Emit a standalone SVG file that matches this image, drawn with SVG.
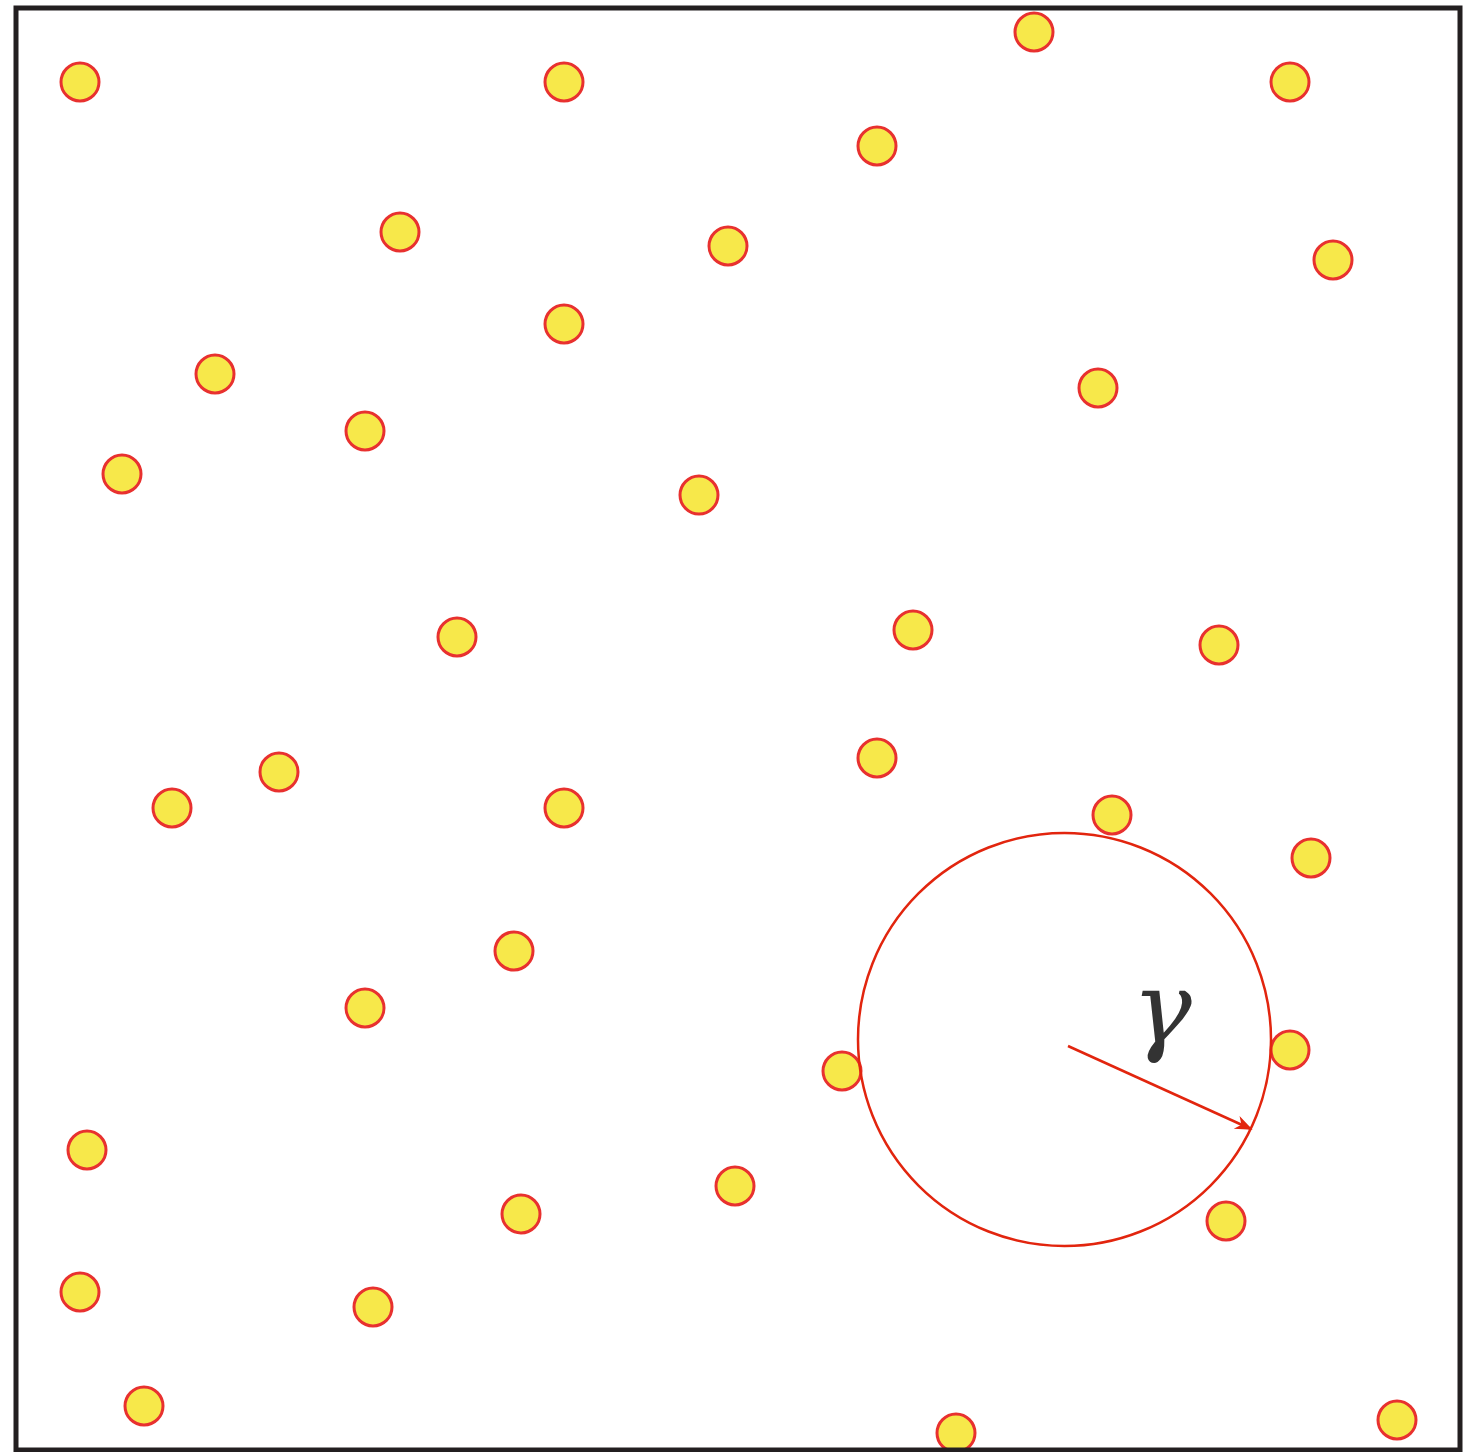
<svg xmlns="http://www.w3.org/2000/svg" width="1466" height="1452" viewBox="0 0 1466 1452">
<style>
.dot{fill:#F7E84A;stroke:#E8312F;stroke-width:3}
.big{fill:none;stroke:#E2250E;stroke-width:2.5}
.frame{fill:none;stroke:#231F20;stroke-width:5}
</style>
<defs>
<marker id="ah" viewBox="0 0 10 10" refX="9" refY="5" markerWidth="7" markerHeight="7" orient="auto" markerUnits="strokeWidth">
<path d="M0,1 L10,5 L0,9 L3,5 Z" fill="#E2250E"/>
</marker>
</defs>
<rect x="0" y="0" width="1466" height="1452" fill="#fff"/>
<g id="points">
<circle class="dot" cx="80" cy="82" r="19"/>
<circle class="dot" cx="564" cy="82" r="19"/>
<circle class="dot" cx="1034" cy="32" r="19"/>
<circle class="dot" cx="1290" cy="82" r="19"/>
<circle class="dot" cx="877" cy="146" r="19"/>
<circle class="dot" cx="400" cy="232" r="19"/>
<circle class="dot" cx="728" cy="246" r="19"/>
<circle class="dot" cx="1333" cy="260" r="19"/>
<circle class="dot" cx="564" cy="324" r="19"/>
<circle class="dot" cx="215" cy="374" r="19"/>
<circle class="dot" cx="365" cy="431" r="19"/>
<circle class="dot" cx="1098" cy="388" r="19"/>
<circle class="dot" cx="122" cy="474" r="19"/>
<circle class="dot" cx="699" cy="495" r="19"/>
<circle class="dot" cx="457" cy="637" r="19"/>
<circle class="dot" cx="913" cy="630" r="19"/>
<circle class="dot" cx="1219" cy="645" r="19"/>
<circle class="dot" cx="279" cy="772" r="19"/>
<circle class="dot" cx="172" cy="808" r="19"/>
<circle class="dot" cx="564" cy="808" r="19"/>
<circle class="dot" cx="877" cy="758" r="19"/>
<circle class="dot" cx="1112" cy="815" r="19"/>
<circle class="dot" cx="1311" cy="858" r="19"/>
<circle class="dot" cx="514" cy="951" r="19"/>
<circle class="dot" cx="365" cy="1008" r="19"/>
<circle class="dot" cx="842" cy="1071" r="19"/>
<circle class="dot" cx="1290" cy="1050" r="19"/>
<circle class="dot" cx="87" cy="1150" r="19"/>
<circle class="dot" cx="735" cy="1186" r="19"/>
<circle class="dot" cx="521" cy="1214" r="19"/>
<circle class="dot" cx="1226" cy="1221" r="19"/>
<circle class="dot" cx="80" cy="1292" r="19"/>
<circle class="dot" cx="373" cy="1307" r="19"/>
<circle class="dot" cx="144" cy="1406" r="19"/>
<circle class="dot" cx="956" cy="1433" r="19"/>
<circle class="dot" cx="1397" cy="1420" r="19"/>
</g>
<g id="range">
<circle class="big" cx="1064.5" cy="1039.5" r="206.5"/>
</g>
<g id="connectors">
<line x1="1068" y1="1046" x2="1251" y2="1129" stroke="#E2250E" stroke-width="2.5" marker-end="url(#ah)"/>
</g>
<g id="label">
<text x="1162" y="1042" font-family="'DejaVu Serif', 'Liberation Serif', serif" font-style="italic" font-size="100" fill="#333333" text-anchor="middle">γ</text>
</g>
<rect class="frame" x="16" y="8" width="1444" height="1442"/>
</svg>
